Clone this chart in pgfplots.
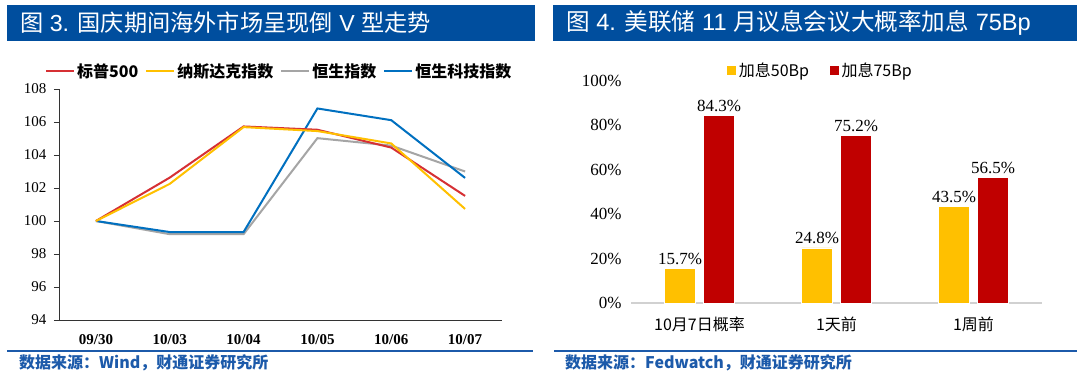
\documentclass[border=0pt]{standalone}
\usepackage{fontspec}
\usepackage{pgfplots}
\pgfplotsset{compat=1.18}
\setmainfont{Liberation Serif}
\newfontfamily\cjk{Noto Sans CJK SC}
\newfontfamily\lsans{Liberation Sans}
\definecolor{titleblue}{RGB}{0,78,158}
\definecolor{footblue}{RGB}{28,90,170}
\definecolor{cRed}{RGB}{214,48,52}
\definecolor{cYel}{RGB}{255,192,0}
\definecolor{cGray}{RGB}{165,165,165}
\definecolor{cBlue}{RGB}{0,112,192}
\definecolor{barRed}{RGB}{192,0,0}
\begin{document}
\begin{tikzpicture}[x=1pt,y=1pt]
\useasboundingbox (0,0) rectangle (1080,377);
\fill[white] (0,0) rectangle (1080,377);
% title bars
\fill[titleblue] (7,336) rectangle (535,372);
\fill[titleblue] (553,336) rectangle (1077,372);
\node[anchor=west,text=white,font=\cjk\fontsize{23.2}{26}\selectfont,inner sep=0pt] at (20,354) {图{\lsans\ 3. }国庆期间海外市场呈现倒{\lsans\ V }型走势};
\node[anchor=west,text=white,font=\cjk\fontsize{23.6}{26}\selectfont,inner sep=0pt] at (566,354) {图{\lsans\ 4. }美联储{\lsans\ 11 }月议息会议大概率加息{\lsans\ 75Bp}};
% footers
\draw[footblue,line width=1.5pt] (7,26) -- (533,26);
\draw[footblue,line width=1.5pt] (554,26) -- (1077,26);
\node[anchor=west,text=footblue,font=\cjk\bfseries\fontsize{16}{18}\selectfont,inner sep=0pt] at (19,14) {数据来源：Wind，财通证券研究所};
\node[anchor=west,text=footblue,font=\cjk\bfseries\fontsize{16}{18}\selectfont,inner sep=0pt] at (565,14) {数据来源：Fedwatch，财通证券研究所};

% left chart
\begin{axis}[
  at={(59pt,57pt)}, anchor=south west, scale only axis,
  width=443pt, height=231pt,
  xmin=-0.5, xmax=5.5, ymin=94, ymax=108,
  ytick={94,96,...,108},
  xtick={0,1,2,3,4,5},
  xticklabels={09/30,10/03,10/04,10/05,10/06,10/07},
  axis x line*=bottom, axis y line*=left,
  axis line style={-, draw=black!80, line width=0.8pt},
  x tick style={draw=none},
  y tick style={draw=black!80, line width=0.8pt},
  tick align=outside, major tick length=5pt,
  /pgf/number format/assume math mode=true,
  yticklabel style={font=\fontsize{15}{17}\selectfont, xshift=-4pt},
  xticklabel style={font=\bfseries\fontsize{15}{17}\selectfont, yshift=-6pt},
  legend style={at={(0.497,1.078)}, anchor=center, draw=none, fill=none,
    legend columns=4, font=\cjk\bfseries\fontsize{16}{18}\selectfont,
    /tikz/every even column/.append style={column sep=5pt}},
  legend image code/.code={\draw[#1] (0pt,0pt) -- (28pt,0pt);},
  every axis plot/.append style={line width=2pt, mark=none},
  clip=false,
]
\addplot[color=cGray, forget plot] coordinates {(0,100) (1,99.20) (2,99.20) (3,105.02) (4,104.57) (5,103.00)};
\addplot[color=cBlue, forget plot] coordinates {(0,100) (1,99.33) (2,99.33) (3,106.82) (4,106.11) (5,102.61)};
\addplot[color=cRed, forget plot] coordinates {(0,100) (1,102.63) (2,105.73) (3,105.53) (4,104.45) (5,101.52)};
\addplot[color=cYel, forget plot] coordinates {(0,100) (1,102.25) (2,105.69) (3,105.45) (4,104.70) (5,100.73)};
\addlegendimage{color=cRed, line width=2pt}
\addlegendentry{标普500}
\addlegendimage{color=cYel, line width=2pt}
\addlegendentry{纳斯达克指数}
\addlegendimage{color=cGray, line width=2pt}
\addlegendentry{恒生指数}
\addlegendimage{color=cBlue, line width=2pt}
\addlegendentry{恒生科技指数}
\end{axis}

% right chart
\begin{axis}[
  at={(631pt,74pt)}, anchor=south west, scale only axis,
  width=411pt, height=222.5pt,
  xmin=-0.5, xmax=2.5, ymin=0, ymax=100,
  ybar=8pt, bar width=31pt,
  ytick={0,20,...,100},
  yticklabel={\pgfmathprintnumber{\tick}\%},
  xtick={0,1,2},
  xticklabels={{10月7日概率},{1天前},{1周前}},
  axis x line*=bottom, axis y line*=left,
  x axis line style={-, draw=black!18, line width=1.2pt},
  y axis line style={draw=none},
  tick style={draw=none},
  /pgf/number format/assume math mode=true,
  yticklabel style={font=\fontsize{17}{19}\selectfont, xshift=-6pt},
  xticklabel style={font=\cjk\fontsize{16}{18}\selectfont, yshift=-6pt},
  nodes near coords={\pgfmathprintnumber[fixed,precision=1,fixed zerofill]{\pgfplotspointmeta}\%},
  nodes near coords style={font=\fontsize{17}{19}\selectfont, text=black},
  legend style={at={(0.46,1.047)}, anchor=center, draw=none, fill=none,
    legend columns=2, font=\cjk\fontsize{16}{18}\selectfont,
    /tikz/every even column/.append style={column sep=18pt}},
  legend image code/.code={\fill[#1] (0pt,-5pt) rectangle (10pt,5pt);},
  clip=false,
]
\addplot[fill=cYel, draw=white, line width=0.5pt] coordinates {(0,15.7) (1,24.8) (2,43.5)};
\addplot[fill=barRed, draw=white, line width=0.5pt] coordinates {(0,84.3) (1,75.2) (2,56.5)};
\legend{加息50Bp,加息75Bp}
\end{axis}
\end{tikzpicture}
\end{document}
